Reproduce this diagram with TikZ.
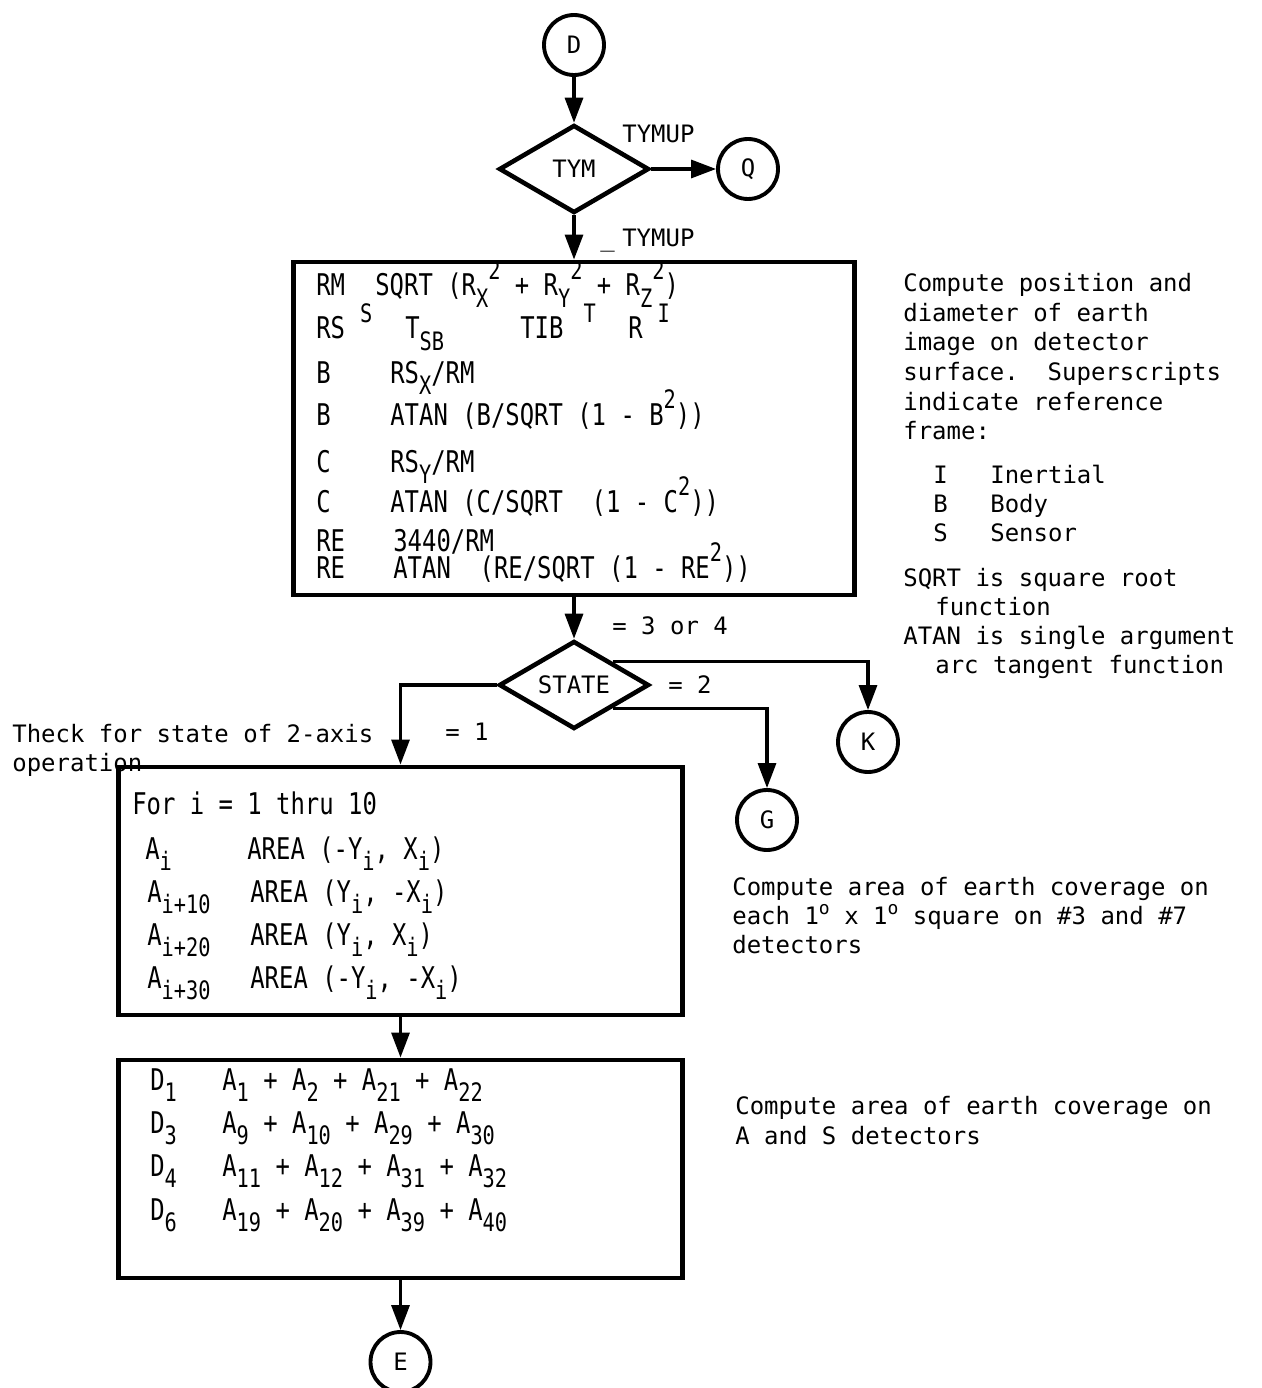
\documentclass[tikz,border=0pt]{standalone}
\usepackage{fontspec}
\usetikzlibrary{arrows.meta,shapes.geometric}
\newfontfamily\notefont{DejaVu Sans Mono}
\newfontfamily\boxfont[FakeStretch=0.8]{DejaVu Sans Mono}
\newcommand\lowr[1]{\raisebox{-0.4em}{\scalebox{0.85}{#1}}}
\newcommand\uppr[1]{\raisebox{0.55em}{\scalebox{0.85}{#1}}}
\newcommand\degr{\raisebox{0.38em}{\scalebox{0.75}{o}}}

\begin{document}
\begin{tikzpicture}[
  x=0.02cm, y=-0.02cm,
  >={Triangle[length=0.5cm,width=0.36cm]},
  every node/.style={font=\notefont\fontsize{13.65pt}{16.7pt}\selectfont,inner sep=0pt},
  conn/.style={->,line width=1.8pt},
  term node/.style={circle,draw,line width=2.2pt,minimum size=1.2cm},
  test node/.style={diamond,draw,line width=2.6pt,shape aspect=1.7,minimum width=3cm,minimum height=1.76cm},
  proc node/.style={rectangle,draw,line width=2.8pt},
  note text/.style={anchor=base west},
  code text/.style={anchor=base west,font=\boxfont\fontsize{17pt}{20pt}\selectfont},
]
\path[fill=white,use as bounding box] (0,0) rectangle (1261,1388);

% side notes
\node[note text] (chk-1) at (12,742) {Theck for state of 2-axis};
\node[note text] (chk-2) at (12,771) {operation};

% flow
\node[term node] (d) at (574,45) {D};
\node[test node] (tym) at (574,169) {TYM};
\node[term node] (q) at (748,169) {Q};
\node[proc node,minimum width=11.24cm,minimum height=6.66cm] (calc) at (574,428.5) {};
\node[test node] (state) at (574,685) {STATE};
\node[term node] (k) at (868,742) {K};
\node[term node] (g) at (767,820) {G};
\node[proc node,minimum width=11.3cm,minimum height=4.96cm] (area) at (400.5,891) {};
\node[proc node,minimum width=11.3cm,minimum height=4.36cm] (sum) at (400.5,1169) {};
\node[term node] (e) at (400.5,1362) {E};

\draw[conn] (d) -- (tym);
\draw[conn] (tym) -- (q);
\draw[conn] (tym) -- (calc);
\draw[conn] (calc) -- (state);
\draw[conn] (state.west) -| (area);
\draw[conn] (state.north east) -| (k);
\draw[conn] (state.south east) -| (g);
\draw[conn] (area) -- (sum);
\draw[conn] (sum) -- (e);

% branch labels
\node[note text] (lbl-up) at (622,143) {TYMUP};
\node[note text] (lbl-notup) at (600,247) {\_\hspace{1.5mm}TYMUP};
\node[note text] (lbl-34) at (612,634) {= 3 or 4};
\node[note text] (lbl-2) at (668,693) {= 2};
\node[note text] (lbl-1) at (445,740) {= 1};

% position and diameter
\node[code text] (rm-a) at (316,296) {RM};
\node[code text] (rm-b) at (375,296) {SQRT (R\lowr{X}\uppr{2} + R\lowr{Y}\uppr{2} + R\lowr{Z}\uppr{2})};
\node[code text] (rs-a) at (316,339) {RS\hspace{3mm}\uppr{S}};
\node[code text] (rs-b) at (405,339) {T\lowr{SB}};
\node[code text] (rs-c) at (520,339) {TIB\hspace{4mm}\uppr{T}};
\node[code text] (rs-d) at (628,339) {R\hspace{3mm}\uppr{I}};
\foreach \lhs/\rhs/\yy [count=\k] in {B/{RS\lowr{X}/RM}/383, B/{ATAN (B/SQRT (1 - B\uppr{2}))}/425,
    C/{RS\lowr{Y}/RM}/472, C/{ATAN (C/SQRT\ \ (1 - C\uppr{2}))}/512}
  {
  \node[code text] (ang-\k) at (316,\yy) {\lhs};
  \node[code text] (angv-\k) at (390,\yy) {\rhs};
  }
\node[code text] (re-1) at (316,551) {RE};
\node[code text] (rev-1) at (393,551) {3440/RM};
\node[code text] (re-2) at (316,578) {RE};
\node[code text] (rev-2) at (393,578) {ATAN\ \ (RE/SQRT (1 - RE\uppr{2}))};

% areas
\node[code text] (loop) at (132,814) {For i = 1 thru 10};
\node[code text] (a-1) at (145,859) {A\lowr{i}};
\node[code text] (av-1) at (247,859) {AREA (-Y\lowr{i}, X\lowr{i})};
\foreach \off/\rhs/\yy [count=\k from 2] in {10/{AREA (Y\lowr{i}, -X\lowr{i})}/902,
    20/{AREA (Y\lowr{i}, X\lowr{i})}/945, 30/{AREA (-Y\lowr{i}, -X\lowr{i})}/988}
  {
  \node[code text] (a-\k) at (147,\yy) {A\lowr{i+\off}};
  \node[code text] (av-\k) at (250,\yy) {\rhs};
  }

% detector sums
\foreach \det/\rhs/\yy in {1/{A\lowr{1} + A\lowr{2} + A\lowr{21} + A\lowr{22}}/1090,
    3/{A\lowr{9} + A\lowr{10} + A\lowr{29} + A\lowr{30}}/1133,
    4/{A\lowr{11} + A\lowr{12} + A\lowr{31} + A\lowr{32}}/1176,
    6/{A\lowr{19} + A\lowr{20} + A\lowr{39} + A\lowr{40}}/1220}
  {
  \node[code text] (det-\det) at (150,\yy) {D\lowr{\det}};
  \node[code text] (detv-\det) at (222,\yy) {\rhs};
  }

% comments on the right
\foreach \txt [count=\k] in {Compute position and, diameter of earth, image on detector,
    surface.\ \ Superscripts, indicate reference, frame:}
  \node[note text] (pos-\k) at (903,{292+29.5*(\k-1)}) {\txt};
\foreach \sym/\frm [count=\k] in {I/Inertial, B/Body, S/Sensor}
  {
  \node[note text] (sym-\k) at (933,{483+29*(\k-1)}) {\sym};
  \node[note text] (frm-\k) at (990,{483+29*(\k-1)}) {\frm};
  }
\node[note text] (fn-1) at (903,586) {SQRT is square root};
\node[note text] (fn-2) at (935,615) {function};
\node[note text] (fn-3) at (903,644) {ATAN is single argument};
\node[note text] (fn-4) at (935,673) {arc tangent function};

\node[note text] (cov-1) at (732,895) {Compute area of earth coverage on};
\node[note text] (cov-2) at (732,924) {each 1\degr{} x 1\degr{} square on \#3 and \#7};
\node[note text] (cov-3) at (732,953) {detectors};

\node[note text] (det-note-1) at (735,1114) {Compute area of earth coverage on};
\node[note text] (det-note-2) at (735,1144) {A and S detectors};
\end{tikzpicture}
\end{document}
